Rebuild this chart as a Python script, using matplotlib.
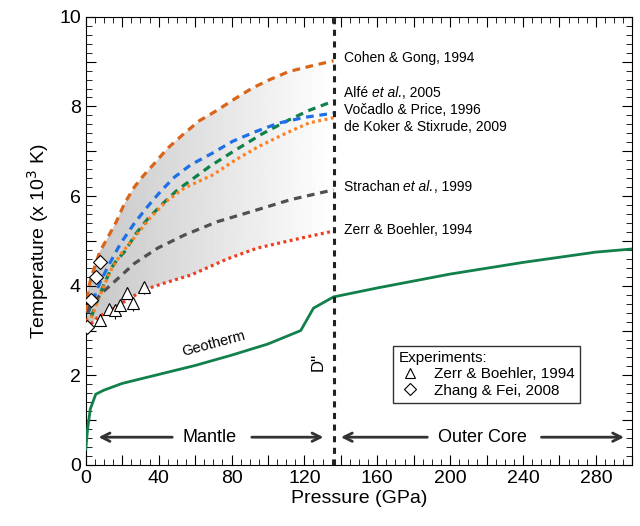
import matplotlib
matplotlib.use("Agg")
import matplotlib.pyplot as plt
import numpy as np
from matplotlib.ticker import MultipleLocator, FuncFormatter
from matplotlib.patches import Polygon

plt.rcParams['font.family'] = ['Liberation Sans', 'DejaVu Sans']

# melting curves (pressure GPa, temperature 10^3 K)
cohen_p = [0.4, 1.3, 3.1, 7.7, 11.3, 16.8, 21.3, 26.8, 31.3, 37.7, 45, 54.1, 62.3, 67.8,
           72.3, 81.4, 91.4, 100.5, 111.5, 122.4, 136]
cohen_t = [3.1, 3.91, 4.2, 4.76, 5.02, 5.43, 5.84, 6.21, 6.44, 6.73, 7.07, 7.4, 7.68, 7.81,
           7.92, 8.16, 8.41, 8.59, 8.78, 8.89, 9.02]
alfe_p = [3.1, 5.8, 9.5, 14, 16.8, 21.3, 27.7, 34, 42.2, 50.4, 59.6, 68.3, 82.3, 96.9,
          111.5, 122.4, 136]
alfe_t = [3.31, 3.61, 3.98, 4.39, 4.56, 4.76, 5.17, 5.49, 5.83, 6.14, 6.41, 6.67, 7.03, 7.39,
          7.7, 7.91, 8.12]
vocadlo_p = [1.3, 4, 7.7, 12.2, 17.7, 20.4, 26.8, 34, 41.4, 48.6, 57.7, 69.6, 80.5, 93.3,
             106, 120.6, 136]
vocadlo_t = [3.39, 3.68, 4.06, 4.43, 4.84, 5.02, 5.4, 5.77, 6.12, 6.42, 6.7, 6.96, 7.22, 7.44,
             7.63, 7.76, 7.85]
dekoker_p = [3.1, 5.8, 9.5, 14, 19.5, 26.8, 35, 44.1, 54.1, 69.6, 82.3, 95.1, 109.7, 122.4, 136]
dekoker_t = [3.28, 3.58, 3.95, 4.36, 4.72, 5.08, 5.5, 5.88, 6.18, 6.47, 6.81, 7.11, 7.4, 7.63, 7.75]
strachan_p = [1.2, 2.2, 8.6, 16.8, 26.8, 39.5, 54.1, 72.3, 90.5, 112.4, 136]
strachan_t = [3.4, 3.53, 3.83, 4.13, 4.5, 4.84, 5.13, 5.43, 5.65, 5.92, 6.14]
zerr_p = [0.4, 1.3, 6.7, 14, 21.3, 32.2, 43.2, 57.8, 77.8, 94.2, 117.9, 136]
zerr_t = [3.05, 3.09, 3.3, 3.46, 3.65, 3.91, 4.06, 4.24, 4.6, 4.84, 5.06, 5.22]

geo_p = [0, 1, 2.5, 5.5, 10, 20, 40, 60, 80, 100, 118, 125, 136, 160, 200, 240, 280, 300]
geo_t = [0.35, 0.8, 1.25, 1.58, 1.67, 1.82, 2.02, 2.22, 2.45, 2.7, 3.0, 3.5, 3.75, 3.95, 4.26, 4.52, 4.75, 4.82]

# experiments
zb_p = [7.7, 12.7, 15.8, 18.6, 22.8, 25.8, 32.2]
zb_t = [3.24, 3.47, 3.46, 3.57, 3.83, 3.62, 3.97]
zb_lo = [0.0, 0.0, 0.2, 0.0, 0.0, 0.18, 0.15]
zb_hi = [0.0, 0.0, 0.0, 0.0, 0.15, 0.0, 0.0]
zf_p = [0.5, 3.1, 5.5, 7.7]
zf_t = [3.09, 3.68, 4.19, 4.54]

curves = [
    (["Cohen & Gong, 1994"], cohen_p, cohen_t, '#d9651a', (0, (2.4, 1.8)), 9.08),
    (["Alfé ", "et al.", ", 2005"], alfe_p, alfe_t, '#11804a', (0, (2.4, 1.8)), 8.3),
    (["Vočadlo & Price, 1996"], vocadlo_p, vocadlo_t, '#1f6fe6', (0, (2.4, 1.8)), 7.92),
    (["de Koker & Stixrude, 2009"], dekoker_p, dekoker_t, '#ff7f1e', (0, (0.9, 1.1)), 7.54),
    (["Strachan ", "et al.", ", 1999"], strachan_p, strachan_t, '#505050', (0, (2.4, 1.8)), 6.2),
    (["Zerr & Boehler, 1994"], zerr_p, zerr_t, '#f03c1e', (0, (0.9, 1.1)), 5.25),
]

fig = plt.figure(figsize=(6.4, 5.26), dpi=100)
ax = fig.add_axes([0.134, 0.116, 0.854, 0.852])

# shaded field between upper and lower curves, gradient grey -> white
verts = list(zip(cohen_p, cohen_t)) + list(zip(zerr_p[::-1], zerr_t[::-1]))
poly = Polygon(verts, closed=True, facecolor='none', edgecolor='none')
ax.add_patch(poly)
grad = np.linspace(0.78, 1.0, 256).reshape(1, -1)
im = ax.imshow(grad, extent=[0, 136, 0, 10], aspect='auto', cmap='gray',
               vmin=0, vmax=1, origin='lower', zorder=1)
im.set_clip_path(poly)

for parts, p, t, c, ls, ly in curves:
    ax.plot(p, t, color=c, ls=ls, lw=2.3, zorder=3)
    prev = ax.text(141.5, ly, parts[0], fontsize=10, va='center', ha='left')
    for i, s in enumerate(parts[1:]):
        prev = ax.annotate(s, xy=(1, 0), xycoords=prev, va='bottom', ha='left',
                           fontsize=10, style='italic' if i == 0 else 'normal')

ax.plot(geo_p, geo_t, color='#11804a', lw=2, zorder=3)
ax.text(70, 2.7, "Geotherm", fontsize=10.5, rotation=15, ha='center', va='center')

ax.axvline(136, color='#222222', ls=(0, (2, 1.8)), lw=2.2, zorder=4)
ax.text(127.5, 2.3, "D''", fontsize=12, rotation=90, ha='center', va='center')

ax.errorbar(zb_p, zb_t, yerr=[zb_lo, zb_hi], fmt='none', ecolor='black',
            elinewidth=0.8, capsize=0, zorder=5)
tri, = ax.plot(zb_p, zb_t, '^', ms=9, mfc='white', mec='black', mew=0.8, ls='none',
               zorder=6, label='Zerr & Boehler, 1994')
dia, = ax.plot(zf_p, zf_t, 'D', ms=7.5, mfc='white', mec='black', mew=0.8, ls='none',
               zorder=6, label='Zhang & Fei, 2008')

# region arrows
arr = dict(arrowstyle='->', color='#333333', lw=2, mutation_scale=15)
ax.annotate('', xy=(5.5, 0.62), xytext=(49, 0.62), arrowprops=arr)
ax.annotate('', xy=(132, 0.62), xytext=(89.6, 0.62), arrowprops=arr)
ax.text(68, 0.62, "Mantle", fontsize=13, ha='center', va='center')
ax.annotate('', xy=(138.5, 0.62), xytext=(189, 0.62), arrowprops=arr)
ax.annotate('', xy=(297, 0.62), xytext=(248.6, 0.62), arrowprops=arr)
ax.text(218, 0.62, "Outer Core", fontsize=13, ha='center', va='center')

leg = ax.legend([tri, dia], ['Zerr & Boehler, 1994', 'Zhang & Fei, 2008'],
                title='Experiments:', loc='lower right', bbox_to_anchor=(0.918, 0.121),
                fontsize=11, title_fontsize=11, frameon=True, fancybox=False,
                edgecolor='black', borderpad=0.35, handletextpad=0.8, labelspacing=0.15,
                handlelength=1.5, markerscale=0.85)
leg._legend_box.align = 'left'
leg.get_frame().set_linewidth(1)

ax.set_xlim(0, 300)
ax.set_ylim(0, 10)
ax.xaxis.set_major_locator(MultipleLocator(20))
ax.xaxis.set_minor_locator(MultipleLocator(5))
ax.yaxis.set_major_locator(MultipleLocator(1))
ax.yaxis.set_minor_locator(MultipleLocator(0.2))
ax.xaxis.set_major_formatter(FuncFormatter(lambda v, pos: f"{v:.0f}" if v % 40 == 0 else ""))
ax.yaxis.set_major_formatter(FuncFormatter(lambda v, pos: f"{v:.0f}" if v % 2 == 0 else ""))
ax.tick_params(which='both', direction='in', top=True, right=True, labelsize=14)
ax.tick_params(which='major', length=7)
ax.tick_params(which='minor', length=4)
ax.set_xlabel("Pressure (GPa)", fontsize=14, labelpad=2)
ax.set_ylabel("Temperature (x 10$^3$ K)", fontsize=14, labelpad=6)

fig.savefig("out.png", dpi=100)
